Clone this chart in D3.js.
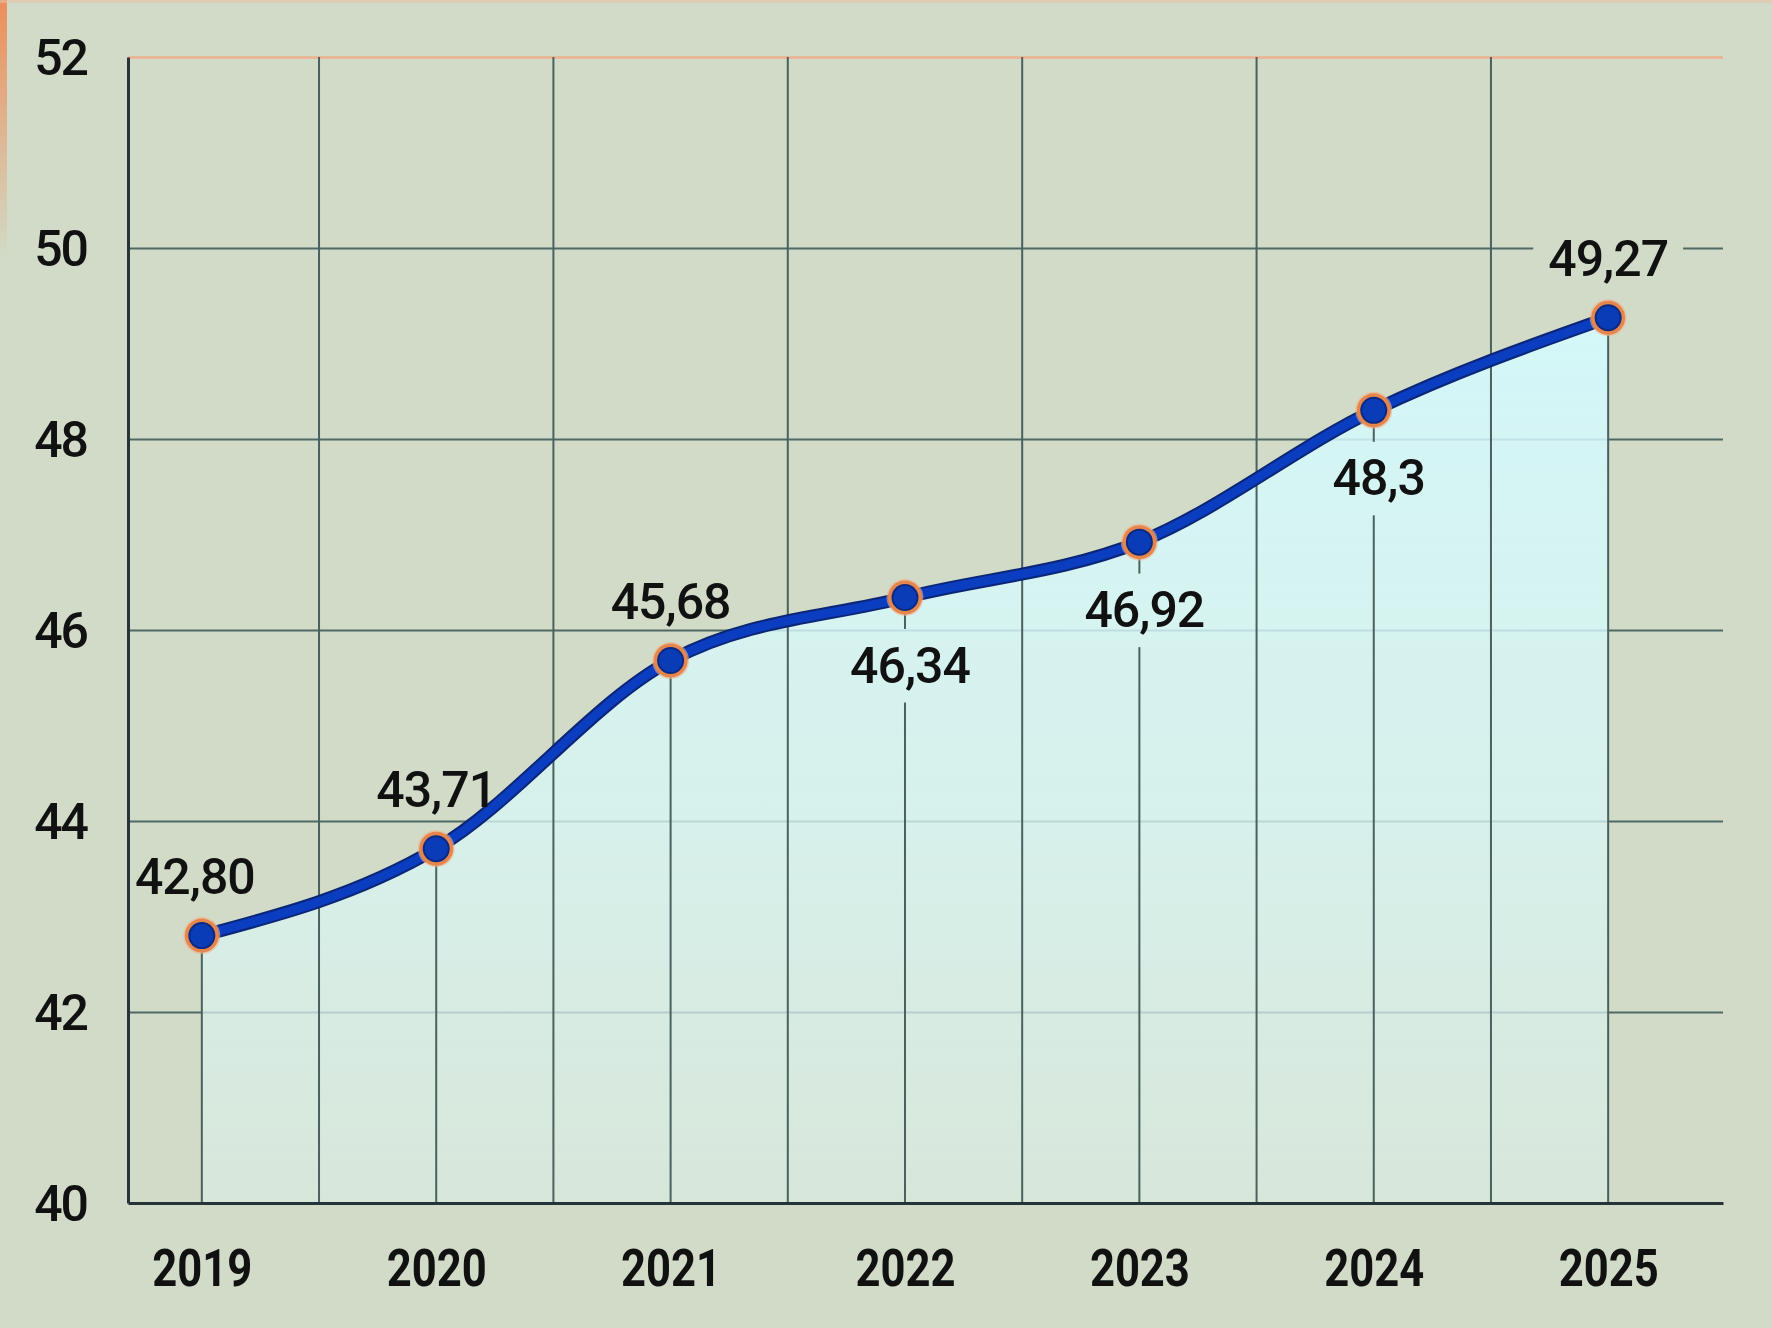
<!DOCTYPE html>
<html>
<head>
<meta charset="utf-8">
<script src="https://cdn.jsdelivr.net/npm/d3@7"></script>
<style>
  body { margin: 0; background: #d1dbc7; }
  svg { display: block; }
  text { font-family: Roboto, "Noto Sans", sans-serif; fill: #111; }
</style>
</head>
<body>
<svg id="chart" width="1772" height="1328"></svg>
<script>
// data
const years = [2019, 2020, 2021, 2022, 2023, 2024, 2025];
const values = [42.80, 43.71, 45.68, 46.34, 46.92, 48.3, 49.27];
const valueLabels = ["42,80", "43,71", "45,68", "46,34", "46,92", "48,3", "49,27"];
const labelSide = ["above", "above", "above", "below", "below", "below", "above"];
const yTicks = [40, 42, 44, 46, 48, 50, 52];

const W = 1772, H = 1328;
const plotLeft = 128, plotRight = 1723, plotTop = 57, plotBottom = 1203;
const labelSize = 50, capHeight = labelSize * 0.711;

const svg = d3.select("#chart");
const defs = svg.append("defs");

const x = d3.scaleLinear().domain([2018.685, 2025.49]).range([plotLeft, plotRight]);
const y = d3.scaleLinear().domain([40, 52]).range([plotBottom, plotTop]);

const points = years.map((yr, i) => ({ year: yr, value: values[i], label: valueLabels[i], side: labelSide[i] }));

// background
svg.append("rect").attr("width", W).attr("height", H).attr("fill", "#d1dbc7");

// orange tint on the top-left edge
const edge = defs.append("linearGradient").attr("id", "edge").attr("x1", 0).attr("y1", 0).attr("x2", 0).attr("y2", 1);
edge.append("stop").attr("offset", 0).attr("stop-color", "#ee8a55").attr("stop-opacity", 0.95);
edge.append("stop").attr("offset", 1).attr("stop-color", "#ee8a55").attr("stop-opacity", 0);
svg.append("rect").attr("x", 0).attr("y", 0).attr("width", 7).attr("height", 260).attr("fill", "url(#edge)");
svg.append("rect").attr("x", 0).attr("y", 0).attr("width", W).attr("height", 3).attr("fill", "#e6c2a6").attr("opacity", 0.6);

// area gradient
const fillGrad = defs.append("linearGradient").attr("id", "fillGrad").attr("x1", 0).attr("y1", 0).attr("x2", 0).attr("y2", 1);
fillGrad.append("stop").attr("offset", 0).attr("stop-color", "#d4faff").attr("stop-opacity", 0.88);
fillGrad.append("stop").attr("offset", 0.55).attr("stop-color", "#d8f7f6").attr("stop-opacity", 0.78);
fillGrad.append("stop").attr("offset", 1).attr("stop-color", "#dbebe2").attr("stop-opacity", 0.72);

// masks that cut the gridlines round the value labels
function makeMask(id) {
  const m = defs.append("mask").attr("id", id)
    .attr("maskUnits", "userSpaceOnUse").attr("x", 0).attr("y", 0).attr("width", W).attr("height", H);
  m.append("rect").attr("width", W).attr("height", H).attr("fill", "white");
  return m;
}
const hMask = makeMask("hMask");
const vMask = makeMask("vMask");

// horizontal gridlines
const hGrid = svg.append("g").attr("mask", "url(#hMask)")
  .append("g")
  .attr("transform", `translate(${plotLeft},0)`)
  .call(d3.axisLeft(y).tickValues(yTicks.filter(t => t > 40)).tickSize(-(plotRight - plotLeft)).tickFormat(""));
hGrid.select(".domain").remove();
hGrid.selectAll(".tick line")
  .attr("stroke", d => d == 52 ? "#e7b79a" : "#506966")
  .attr("stroke-width", d => d == 52 ? 3 : 2);

// area under the curve
const area = d3.area()
  .x(d => x(d.year))
  .y0(y(40))
  .y1(d => y(d.value))
  .curve(d3.curveMonotoneX);

svg.append("path").datum(points).attr("d", area).attr("fill", "url(#fillGrad)");

// vertical gridlines: full height at half years, drop lines at the years
const vGrid = svg.append("g").attr("mask", "url(#vMask)");
vGrid.selectAll(".mid")
  .data(d3.range(2019.5, 2025, 1))
  .join("line")
  .attr("class", "mid")
  .attr("x1", d => x(d)).attr("x2", d => x(d))
  .attr("y1", y(52)).attr("y2", y(40))
  .attr("stroke", "#4a615f").attr("stroke-width", 2);
vGrid.selectAll(".drop")
  .data(points)
  .join("line")
  .attr("class", "drop")
  .attr("x1", d => x(d.year)).attr("x2", d => x(d.year))
  .attr("y1", d => y(d.value)).attr("y2", y(40))
  .attr("stroke", "#4a615f").attr("stroke-width", 2);

// axes
const yAxis = svg.append("g")
  .attr("transform", `translate(${plotLeft},0)`)
  .call(d3.axisLeft(y).tickValues(yTicks).tickSize(0).tickPadding(41));
yAxis.select(".domain").attr("stroke", "#26343a").attr("stroke-width", 3);
yAxis.selectAll(".tick text")
  .attr("font-size", 50).attr("font-weight", 500).attr("letter-spacing", "-2px")
  .attr("dy", "0.35em").attr("fill", "#111");

const xAxis = svg.append("g")
  .attr("transform", `translate(0,${plotBottom})`)
  .call(d3.axisBottom(x).tickValues(years).tickFormat(d3.format("d")).tickSize(0).tickPadding(46));
xAxis.select(".domain").attr("stroke", "#26343a").attr("stroke-width", 3);
xAxis.selectAll(".tick text")
  .attr("font-size", 52).attr("font-weight", 700)
  .attr("textLength", 100).attr("lengthAdjust", "spacingAndGlyphs")
  .attr("fill", "#111");

// the line
const line = d3.line()
  .x(d => x(d.year))
  .y(d => y(d.value))
  .curve(d3.curveMonotoneX);

svg.append("path").datum(points).attr("d", line)
  .attr("fill", "none").attr("stroke", "#0b2677").attr("stroke-width", 13).attr("stroke-linecap", "round");
svg.append("path").datum(points).attr("d", line)
  .attr("fill", "none").attr("stroke", "#0a3dbf").attr("stroke-width", 9).attr("stroke-linecap", "round");

// markers
const marks = svg.append("g").selectAll("g")
  .data(points)
  .join("g")
  .attr("transform", d => `translate(${x(d.year)},${y(d.value)})`);
marks.append("circle").attr("r", 18.5).attr("fill", "#f2b08a").attr("opacity", 0.6);
marks.append("circle").attr("r", 17).attr("fill", "#e6864d");
marks.append("circle").attr("r", 13.5).attr("fill", "#0b2a80");
marks.append("circle").attr("r", 11.5).attr("fill", "#0a3cb8");

// value labels
const labels = svg.append("g").selectAll("text")
  .data(points)
  .join("text")
  .attr("x", d => x(d.year) + (d.side == "above" ? (d.year == 2019 ? -7 : 0) : 5))
  .attr("y", d => y(d.value) + (d.side == "above" ? -42 : 85))
  .attr("text-anchor", "middle")
  .attr("font-size", labelSize).attr("font-weight", 500).attr("letter-spacing", "-1px")
  .text(d => d.label);

// gaps: horizontal lines only where they run through the digits,
// vertical drop lines with some room above and below the label
labels.each(function (d) {
  const b = this.getBBox();
  const base = y(d.value) + (d.side == "above" ? -42 : 85);
  hMask.append("rect")
    .attr("x", b.x - 15).attr("y", base - capHeight - 2)
    .attr("width", b.width + 30).attr("height", capHeight + 4)
    .attr("fill", "black");
  vMask.append("rect")
    .attr("x", b.x - 15).attr("y", base - capHeight - 18)
    .attr("width", b.width + 30).attr("height", capHeight + 38)
    .attr("fill", "black");
});
</script>
</body>
</html>
